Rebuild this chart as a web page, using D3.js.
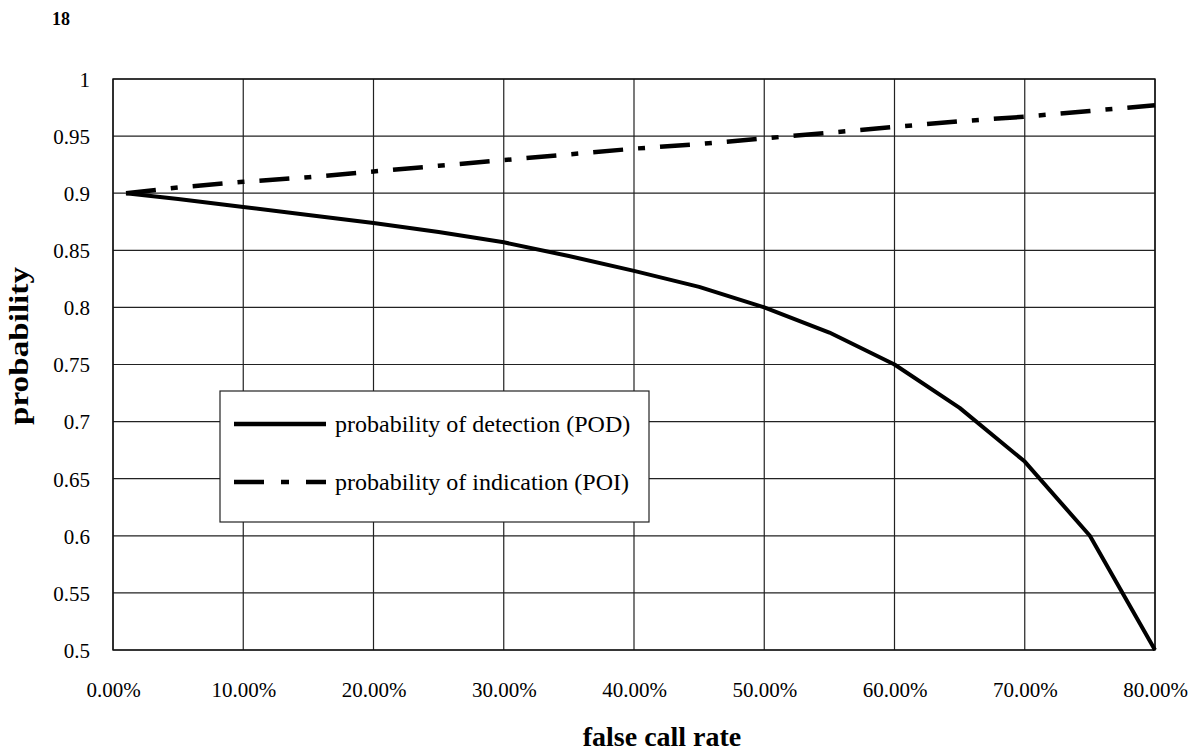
<!DOCTYPE html>
<html>
<head>
<meta charset="utf-8">
<script src="https://cdn.jsdelivr.net/npm/d3@7"></script>
<style>
  html, body { margin: 0; padding: 0; background: #fff; }
  svg { display: block; }
  svg text { font-family: "Liberation Serif", "DejaVu Serif", serif !important; fill: #000; }
</style>
</head>
<body>
<svg id="chart" width="1191" height="753"></svg>
<script>
// ---- data ----
const falseCallRate = [0.01, 0.05, 0.10, 0.15, 0.20, 0.25, 0.30, 0.35, 0.40, 0.45, 0.50, 0.55, 0.60, 0.65, 0.70, 0.75, 0.80];
const podValues     = [0.900, 0.895, 0.888, 0.881, 0.874, 0.866, 0.857, 0.845, 0.832, 0.818, 0.800, 0.778, 0.750, 0.712, 0.665, 0.600, 0.500];
const poiValues     = [0.900, 0.905, 0.910, 0.914, 0.919, 0.924, 0.929, 0.934, 0.939, 0.943, 0.948, 0.953, 0.958, 0.963, 0.967, 0.972, 0.977];
const xTicks = [0, 0.1, 0.2, 0.3, 0.4, 0.5, 0.6, 0.7, 0.8];
const yTicks = [0.5, 0.55, 0.6, 0.65, 0.7, 0.75, 0.8, 0.85, 0.9, 0.95, 1];
const seriesNames = ["probability of detection (POD)", "probability of indication (POI)"];
const pageNumber = "18";
const xTitle = "false call rate";
const yTitle = "probability";

(function () {
const SERIF = '"Liberation Serif", "DejaVu Serif", serif';
const svg = d3.select("#chart");
const pL = 113, pR = 1155, pT = 79, pB = 650;

const x = d3.scaleLinear().domain([0, 0.8]).range([pL, pR]);
const y = d3.scaleLinear().domain([0.5, 1]).range([pB, pT]);

// page number
svg.append("text").attr("x", 61).attr("y", 25).attr("text-anchor", "middle")
  .style("font-family", SERIF).attr("font-size", 18).attr("font-weight", "bold").text(pageNumber);

// gridlines
const grid = svg.append("g");
grid.selectAll("line.h").data(yTicks).join("line").attr("class", "h")
  .attr("x1", pL).attr("x2", pR)
  .attr("y1", d => y(d)).attr("y2", d => y(d))
  .attr("stroke", "#222").attr("stroke-width", 1.2);
grid.selectAll("line.v").data(xTicks).join("line").attr("class", "v")
  .attr("x1", d => x(d)).attr("x2", d => x(d))
  .attr("y1", pT).attr("y2", pB)
  .attr("stroke", "#222").attr("stroke-width", 1.2);

// plot border
svg.append("rect").attr("x", pL).attr("y", pT)
  .attr("width", pR - pL).attr("height", pB - pT)
  .attr("fill", "none").attr("stroke", "#111").attr("stroke-width", 1.4);

// axes (labels only, via d3 axes)
const yAxis = d3.axisLeft(y).tickValues(yTicks).tickSize(0).tickPadding(0)
  .tickFormat(d => String(+d.toFixed(2)));
const gy = svg.append("g").attr("transform", `translate(${pL - 23},0)`).call(yAxis)
  .attr("font-family", null).attr("font-size", null);
gy.select(".domain").remove();
gy.selectAll("text").style("font-family", SERIF).style("font-size", "21px").attr("fill", "#000").attr("dy", "0.35em");

const xAxis = d3.axisBottom(x).tickValues(xTicks).tickSize(0).tickPadding(0)
  .tickFormat(d3.format(".2%"));
const gx = svg.append("g").attr("transform", `translate(0,${pB + 40})`).call(xAxis)
  .attr("font-family", null).attr("font-size", null);
gx.select(".domain").remove();
gx.selectAll("text").style("font-family", SERIF).style("font-size", "21px").attr("fill", "#000").attr("dy", "0.35em");

// axis titles
svg.append("text").attr("x", 662).attr("y", 746).attr("text-anchor", "middle")
  .style("font-family", SERIF).attr("font-size", 28).attr("font-weight", "bold").text(xTitle);
svg.append("text").attr("transform", "translate(28,346) rotate(-90)")
  .attr("text-anchor", "middle")
  .style("font-family", SERIF).attr("font-size", 28).attr("font-weight", "bold")
  .attr("textLength", 158).attr("lengthAdjust", "spacingAndGlyphs")
  .text(yTitle);

// lines
const line = d3.line().x(d => x(d[0])).y(d => y(d[1]));
const podData = falseCallRate.map((f, i) => [f, podValues[i]]);
const poiData = falseCallRate.map((f, i) => [f, poiValues[i]]);

svg.append("path").datum(poiData).attr("d", line)
  .attr("fill", "none").attr("stroke", "#000").attr("stroke-width", 4.5)
  .attr("stroke-dasharray", "30,15,7,15");
svg.append("path").datum(podData).attr("d", line)
  .attr("fill", "none").attr("stroke", "#000").attr("stroke-width", 4)
  .attr("stroke-linejoin", "round");

// legend
const lg = svg.append("g");
lg.append("rect").attr("x", 220).attr("y", 391).attr("width", 429).attr("height", 131)
  .attr("fill", "#fff").attr("stroke", "#222").attr("stroke-width", 1.2);
const legendRows = [
  { name: seriesNames[0], dash: null, yy: 424 },
  { name: seriesNames[1], dash: "30,17,8,17", yy: 482 }
];
legendRows.forEach(r => {
  lg.append("line").attr("x1", 234).attr("x2", 326).attr("y1", r.yy).attr("y2", r.yy)
    .attr("stroke", "#000").attr("stroke-width", 4.5)
    .attr("stroke-dasharray", r.dash);
  lg.append("text").attr("x", 335).attr("y", r.yy).attr("dy", "0.35em")
    .style("font-family", SERIF).attr("font-size", 24).text(r.name);
});
})();
</script>
</body>
</html>
